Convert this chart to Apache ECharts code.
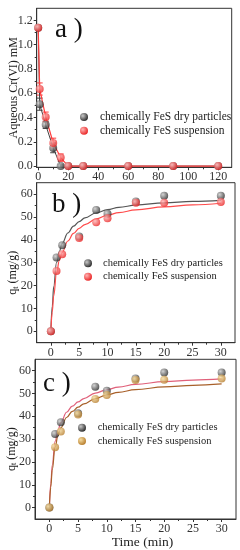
<!DOCTYPE html>
<html><head><meta charset="utf-8">
<script src="https://cdn.jsdelivr.net/npm/echarts@6/dist/echarts.min.js"></script>
<style>html,body{margin:0;padding:0;background:#fff}#c{width:240px;height:550px}</style>
</head><body><div id="c"></div>
<script>
// ---------- data ----------
const T_A = [0, 1, 5, 10, 15, 20, 30, 60, 90, 120];
const DRY_A = [1.14, 0.51, 0.34, 0.15, 0.0, 0, 0, 0, 0, 0];
const DRY_A_ERR = [0, 0.05, 0.03, 0.04, 0.01, 0, 0, 0, 0, 0];
const SUSP_A = [1.14, 0.635, 0.405, 0.19, 0.07, 0, 0, 0, 0, 0];
const SUSP_A_ERR = [0, 0.05, 0.04, 0.04, 0.03, 0, 0, 0, 0, 0];

const T_B = [0, 1, 2, 5, 8, 10, 15, 20, 30];
const DRY_B = [0, 32.3, 37.6, 41.5, 53.1, 51.4, 56.8, 59.3, 59.3];
const SUSP_B = [0, 26.4, 33.7, 40.8, 47.7, 49.4, 56.2, 56.2, 56.6];
const DRY_C = [0, 32.3, 37.4, 41.3, 53.0, 51.2, 56.6, 59.2, 59.2];
const SUSP_C = [0, 26.5, 33.3, 40.8, 47.6, 49.3, 55.9, 56.0, 56.6];

const FIT_T = [0, 0.25, 0.5, 1, 1.5, 2, 3, 4, 5, 6, 8, 10, 12, 15, 20, 25, 30];
const FIT_B_DRY = [0, 11, 19.5, 30, 35, 38.5, 43, 46, 48, 49.6, 51.8, 53.2, 54.2, 55.2, 56.2, 56.8, 57.3];
const FIT_B_SUSP = [0, 8.5, 15.5, 25.5, 31, 34.5, 39.5, 42.8, 45, 46.7, 49.2, 50.8, 51.9, 53.1, 54.4, 55.3, 56];
const FIT_C_UPPER = [0, 10.5, 18.5, 29, 34, 37.3, 41.8, 44.5, 46.3, 47.8, 50.2, 51.7, 52.8, 54, 55.2, 55.9, 56.4];
const FIT_C_LOWER = [0, 9, 16.5, 26.5, 31.5, 35, 39.5, 42.2, 44, 45.5, 47.8, 49.4, 50.5, 51.7, 52.9, 53.6, 54.2];

const X_TICKS_A = [0, 20, 40, 60, 80, 100, 120];
const X_MINOR_A = [10, 30, 50, 70, 90, 110];
const Y_TICKS_A = [0, 0.2, 0.4, 0.6, 0.8, 1.0, 1.2];
const Y_MINOR_A = [0.1, 0.3, 0.5, 0.7, 0.9, 1.1];
const X_TICKS_BC = [0, 5, 10, 15, 20, 25, 30];
const X_MINOR_BC = [2.5, 7.5, 12.5, 17.5, 22.5, 27.5];
const Y_TICKS_BC = [0, 10, 20, 30, 40, 50, 60];
const Y_MINOR_BC = [5, 15, 25, 35, 45, 55];

const NAME_DRY = 'chemically FeS dry particles';
const NAME_SUSP = 'chemically FeS suspension';

// ---------- styles ----------
const FONT = "'Liberation Serif','DejaVu Serif',serif";
const AX = '#333';
const sphere = (c0, c1) => ({type: 'radial', x: 0.35, y: 0.35, r: 0.75,
  colorStops: [{offset: 0, color: c0}, {offset: 1, color: c1}]});
const BLACK = sphere('#c8c8c8', '#1e1e1e');
const RED = sphere('#ffb4b4', '#e81818');
const BROWN = sphere('#f5dca0', '#b27624');

const zip = (xs, ys) => xs.map((x, i) => [x, ys[i]]);

function majorX(g, min, max, ticks, extra) {
  return Object.assign({
    type: 'value', gridIndex: g, min: min, max: max, position: 'bottom', offset: 0,
    nameMoveOverlap: false,
    axisLine: {show: true, onZero: false, lineStyle: {color: AX, width: 1}},
    axisTick: {show: true, inside: false, length: 3, customValues: ticks, lineStyle: {color: AX}},
    axisLabel: {customValues: ticks, margin: 4, fontFamily: FONT, fontSize: 12, color: AX},
    splitLine: {show: false}
  }, extra || {});
}
function minorX(g, min, max, ticks) {
  return {type: 'value', gridIndex: g, min: min, max: max, position: 'bottom', offset: 0,
    axisLine: {show: false, onZero: false}, axisLabel: {show: false}, splitLine: {show: false},
    axisTick: {show: true, inside: false, length: 2, customValues: ticks, lineStyle: {color: AX}}};
}
function majorY(g, min, max, ticks, extra, fmt) {
  return Object.assign({
    type: 'value', gridIndex: g, min: min, max: max, position: 'left', offset: 0,
    nameMoveOverlap: false,
    axisLine: {show: true, onZero: false, lineStyle: {color: AX, width: 1}},
    axisTick: {show: true, inside: false, length: 3, customValues: ticks, lineStyle: {color: AX}},
    axisLabel: {customValues: ticks, margin: 4, fontFamily: FONT, fontSize: 12, color: AX, formatter: fmt},
    splitLine: {show: false}
  }, extra || {});
}
function minorY(g, min, max, ticks) {
  return {type: 'value', gridIndex: g, min: min, max: max, position: 'left', offset: 0,
    axisLine: {show: false, onZero: false}, axisLabel: {show: false}, splitLine: {show: false},
    axisTick: {show: true, inside: false, length: 2, customValues: ticks, lineStyle: {color: AX}}};
}

const qName = {
  name: '{a|q}{s|t}{a| (mg/g)}', nameLocation: 'middle', nameGap: 17,
  nameTextStyle: {fontFamily: FONT, fontSize: 12, color: '#222', padding: [0, 20, 0, 0],
    rich: {a: {fontFamily: FONT, fontSize: 12, color: '#222'},
           s: {fontFamily: FONT, fontSize: 8, color: '#222', verticalAlign: 'bottom', padding: [5, 0, 0, 0]}}}
};

function errSeries(name, xi, yi, data, color) {
  return {
    type: 'custom', name: name, xAxisIndex: xi, yAxisIndex: yi, data: data, z: 2,
    renderItem: function (params, api) {
      const x = api.value(0), y = api.value(1), e = api.value(2);
      if (!e) return;
      const top = api.coord([x, y + e]), bot = api.coord([x, y - e]);
      const st = {stroke: color, lineWidth: 1};
      return {type: 'group', children: [
        {type: 'line', shape: {x1: top[0], y1: top[1], x2: bot[0], y2: bot[1]}, style: st},
        {type: 'line', shape: {x1: top[0] - 3, y1: top[1], x2: top[0] + 3, y2: top[1]}, style: st},
        {type: 'line', shape: {x1: bot[0] - 3, y1: bot[1], x2: bot[0] + 3, y2: bot[1]}, style: st}
      ]};
    }
  };
}
function scatter(name, xi, yi, data, color, size) {
  return {type: 'scatter', name: name, xAxisIndex: xi, yAxisIndex: yi, data: data,
    symbolSize: size, itemStyle: {color: color}, z: 5};
}
function fit(name, xi, yi, data, color) {
  return {type: 'line', name: name, xAxisIndex: xi, yAxisIndex: yi, data: data, smooth: 0.4,
    smoothMonotone: 'x', showSymbol: false, lineStyle: {color: color, width: 1.2}, z: 3};
}

function legendGraphic(x, y1, y2, tx, fs, c1, c2) {
  const mk = (y, c, t) => [
    {type: 'circle', shape: {cx: x, cy: y, r: 4}, style: {fill: c}},
    {type: 'text', x: tx, y: y, style: {text: t, font: fs + 'px ' + FONT, fill: '#222', verticalAlign: 'middle'}}
  ];
  return mk(y1, c1, NAME_DRY).concat(mk(y2, c2, NAME_SUSP));
}
function letter(x, y, t) {
  return {type: 'text', x: x, y: y, style: {text: t, font: '27px ' + FONT, fill: '#111', verticalAlign: 'middle'}};
}

const gridBase = {show: true, borderColor: AX, borderWidth: 1, containLabel: false, outerBoundsMode: 'none'};
const option = {
  animation: false,
  backgroundColor: '#fff',
  grid: [
    Object.assign({left: 36.7, right: 8.3, top: 8.3, height: 159}, gridBase),
    Object.assign({left: 36.7, right: 5, top: 182.7, height: 160}, gridBase),
    Object.assign({left: 35, right: 4, top: 359.3, height: 159.7}, gridBase)
  ],
  xAxis: [
    majorX(0, -1, 129, X_TICKS_A),
    majorX(1, -2.5, 32.5, X_TICKS_BC),
    majorX(2, -2.5, 32.5, X_TICKS_BC, {name: 'Time (min)', nameLocation: 'middle', nameGap: 16,
      nameTextStyle: {fontFamily: FONT, fontSize: 13.5, color: '#222', padding: [0, 0, 0, 14]}}),
    minorX(0, -1, 129, X_MINOR_A),
    minorX(1, -2.5, 32.5, X_MINOR_BC),
    minorX(2, -2.5, 32.5, X_MINOR_BC)
  ],
  yAxis: [
    majorY(0, -0.01, 1.3, Y_TICKS_A, {name: 'Aqueous Cr(VI) mM', nameLocation: 'middle', nameGap: 17,
      nameTextStyle: {fontFamily: FONT, fontSize: 12, color: '#222'}}, v => v.toFixed(1)),
    majorY(1, -5, 65, Y_TICKS_BC, qName),
    majorY(2, -5, 65, Y_TICKS_BC, qName),
    minorY(0, -0.01, 1.3, Y_MINOR_A),
    minorY(1, -5, 65, Y_MINOR_BC),
    minorY(2, -5, 65, Y_MINOR_BC)
  ],
  series: [
    // panel a
    {type: 'line', name: NAME_DRY, xAxisIndex: 0, yAxisIndex: 0, data: zip(T_A, DRY_A), showSymbol: false,
      lineStyle: {color: '#444', width: 1}, z: 2},
    errSeries(NAME_DRY, 0, 0, T_A.map((t, i) => [t, DRY_A[i], DRY_A_ERR[i]]), '#444'),
    {type: 'line', name: NAME_SUSP, xAxisIndex: 0, yAxisIndex: 0, data: zip(T_A, SUSP_A), showSymbol: false,
      lineStyle: {color: '#ff3c3c', width: 1.2}, z: 3},
    errSeries(NAME_SUSP, 0, 0, T_A.map((t, i) => [t, SUSP_A[i], SUSP_A_ERR[i]]), '#ff3c3c'),
    scatter(NAME_DRY, 0, 0, zip(T_A, DRY_A), BLACK, 8),
    scatter(NAME_SUSP, 0, 0, zip(T_A, SUSP_A), RED, 8),
    // panel b
    fit(NAME_DRY, 1, 1, zip(FIT_T, FIT_B_DRY), '#555'),
    fit(NAME_SUSP, 1, 1, zip(FIT_T, FIT_B_SUSP), '#ff4a4a'),
    scatter(NAME_DRY, 1, 1, zip(T_B, DRY_B), BLACK, 8),
    scatter(NAME_SUSP, 1, 1, zip(T_B, SUSP_B), RED, 8),
    // panel c
    fit(NAME_DRY, 2, 2, zip(FIT_T, FIT_C_UPPER), '#e0607a'),
    fit(NAME_SUSP, 2, 2, zip(FIT_T, FIT_C_LOWER), '#a8602a'),
    scatter(NAME_DRY, 2, 2, zip(T_B, DRY_C), BLACK, 8),
    scatter(NAME_SUSP, 2, 2, zip(T_B, SUSP_C), BROWN, 8)
  ],
  graphic: [
    letter(55, 30, 'a )'),
    letter(52, 205, 'b )'),
    letter(43, 384, 'c )')
  ].concat(
    legendGraphic(84, 117, 130.7, 100, 11.5, BLACK, RED),
    legendGraphic(88, 263.3, 276.7, 103, 10.5, BLACK, RED),
    legendGraphic(82, 427.7, 441, 97.7, 10.5, BLACK, BROWN)
  )
};

const chart = echarts.init(document.getElementById('c'), null, {renderer: 'canvas'});
chart.setOption(option);
</script>
</body></html>
